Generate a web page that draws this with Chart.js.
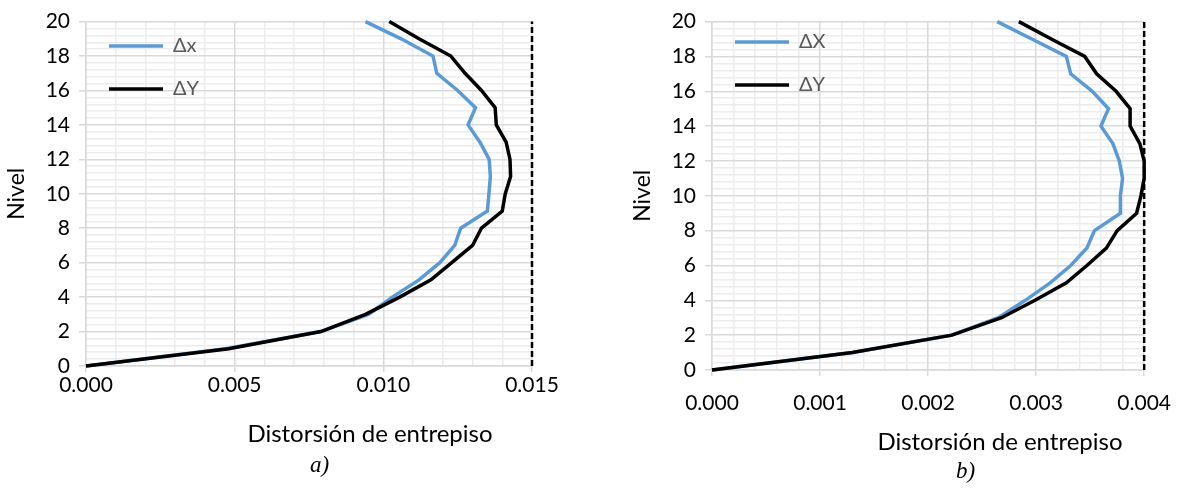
<!DOCTYPE html>
<html>
<head>
<meta charset="utf-8">
<script src="https://cdn.jsdelivr.net/npm/chart.js@4/dist/chart.umd.min.js"></script>
<style>
body { margin: 0; background: #fff; width: 1194px; height: 489px; position: relative; overflow: hidden; }
canvas { position: absolute; top: 0; }
#chartA { left: 0; }
#chartB { left: 626px; }
.cap { position: absolute; font-family: "Liberation Serif", serif; font-style: italic; font-size: 23px; }
.tit { position: absolute; font-family: Lato, sans-serif; font-size: 24px; color: #000;
       transform: translate(-50%, -50%); white-space: nowrap; }
</style>
</head>
<body>
<canvas id="chartA" width="560" height="450"></canvas>
<canvas id="chartB" width="560" height="460"></canvas>
<div class="tit" style="left:370px; top:432px;">Distorsión de entrepiso</div>
<div class="tit" style="left:1000px; top:440px;">Distorsión de entrepiso</div>
<div class="cap" style="left:310px; top:452px;">a)</div>
<div class="cap" style="left:956px; top:458px;">b)</div>
<script>
// niveles del edificio (eje vertical)
const niveles = [0, 1, 2, 3, 4, 5, 6, 7, 8, 9, 10, 11, 12, 13, 14, 15, 16, 17, 18, 19, 20];

// a) distorsiones
const derivaXa = [0, 0.0047, 0.0079, 0.0095, 0.0103, 0.0112, 0.0119, 0.0124, 0.0126, 0.0135, 0.01355,
                  0.0136, 0.01356, 0.01325, 0.01285, 0.0131, 0.0125, 0.0118, 0.01167, 0.0106, 0.0094];
const derivaYa = [0, 0.0048, 0.0079, 0.0094, 0.01055, 0.0116, 0.0123, 0.0130, 0.0133, 0.0140, 0.0141,
                  0.01428, 0.01426, 0.01413, 0.0138, 0.01376, 0.0133, 0.01275, 0.01227, 0.0112, 0.0102];

// b)
const derivaXb = [0, 0.0013, 0.00222, 0.00265, 0.0029, 0.00313, 0.00332, 0.00347, 0.00354, 0.00378, 0.00378,
                  0.0038, 0.00377, 0.00371, 0.0036, 0.00367, 0.00352, 0.00332, 0.00328, 0.00296, 0.00264];
const derivaYb = [0, 0.0013, 0.00222, 0.00268, 0.00299, 0.00328, 0.00347, 0.00365, 0.00375, 0.00393, 0.00397,
                  0.0040, 0.0040, 0.00396, 0.00387, 0.00387, 0.00374, 0.00356, 0.00345, 0.00314, 0.00284];

// limites (linea punteada) y escalas
const limiteA = [0.015, 0.015];
const limiteB = [0.004, 0.004];
const limiteNiv = [0, 20];
const ticksA = { max: 0.015, paso: 0.005, menor: 0.001 };
const ticksB = { max: 0.004, paso: 0.001, menor: 0.0002 };
const nomA = ['\u0394x', '\u0394Y'];
const nomB = ['\u0394X', '\u0394Y'];

const fuente = 'Lato';
const gridMayor = '#d9d9d9';
const gridMenor = '#ececec';

function puntos(xs, ys) {
    return xs.map((v, i) => ({ x: v, y: ys[i] }));
}

function crearGrafico(id, dx, dy, lim, nombres, t, altoX, padTicks, legTop) {
    const ctx = document.getElementById(id).getContext('2d');
    return new Chart(ctx, {
        type: 'scatter',
        data: {
            datasets: [
                { label: nombres[0], data: puntos(dx, niveles), showLine: true, borderColor: '#5b9bd5',
                  backgroundColor: '#5b9bd5', borderWidth: 3.5, pointRadius: 0, order: 1, clip: false },
                { label: nombres[1], data: puntos(dy, niveles), showLine: true, borderColor: '#000',
                  backgroundColor: '#000', borderWidth: 3.5, pointRadius: 0, order: 0, clip: false },
                { label: 'limite', data: puntos(lim, limiteNiv), showLine: true, borderColor: '#000',
                  borderWidth: 2.5, borderDash: [6, 3], pointRadius: 0, order: 2, clip: false }
            ]
        },
        options: {
            responsive: false,
            animation: false,
            layout: { padding: { top: 16, right: 28, left: 0, bottom: 0 } },
            plugins: {
                tooltip: { enabled: false },
                legend: {
                    position: 'chartArea',
                    align: 'start',
                    // titulo vacio solo para bajar la leyenda
                    title: { display: true, text: ' ', font: { size: 10 }, padding: { top: legTop, bottom: 0 } },
                    labels: {
                        usePointStyle: true,
                        pointStyle: 'line',
                        pointStyleWidth: 54,
                        padding: 23,
                        color: '#595959',
                        font: { family: fuente, size: 20 },
                        filter: item => item.text !== 'limite',
                        sort: (a, b) => a.datasetIndex - b.datasetIndex
                    }
                }
            },
            scales: {
                xm: {
                    type: 'linear', position: 'bottom', min: 0, max: t.max,
                    ticks: { display: false, stepSize: t.menor },
                    grid: { drawTicks: false, lineWidth: 1.5,
                            color: c => (c.index % 5 === 0 ? 'rgba(0,0,0,0)' : gridMenor) },
                    border: { display: false },
                    afterFit: s => { s.height = 0; }
                },
                ym: {
                    type: 'linear', position: 'left', min: 0, max: 20,
                    ticks: { display: false, stepSize: 0.4 },
                    grid: { drawTicks: false, lineWidth: 1.5,
                            color: c => (c.index % 5 === 0 ? 'rgba(0,0,0,0)' : gridMenor) },
                    border: { display: false },
                    afterFit: s => { s.width = 0; }
                },
                x: {
                    type: 'linear', position: 'bottom', min: 0, max: t.max,
                    ticks: { stepSize: t.paso, callback: v => v.toFixed(3), color: '#000',
                             font: { family: fuente, size: 21 }, padding: padTicks, maxRotation: 0, autoSkip: false },
                    grid: { color: gridMayor, lineWidth: 1.5, tickLength: 6 },
                    border: { color: gridMayor, width: 1.5 },
                    afterFit: s => { s.height = altoX; }
                },
                y: {
                    type: 'linear', position: 'left', min: 0, max: 20,
                    ticks: { stepSize: 2, color: '#000', font: { family: fuente, size: 21 }, padding: 9 },
                    grid: { color: gridMayor, lineWidth: 1.5, tickLength: 7 },
                    border: { color: gridMayor, width: 1.5 },
                    title: { display: true, text: 'Nivel', color: '#000',
                             font: { family: fuente, size: 23 }, padding: { top: 3, bottom: 0 } },
                    afterFit: s => { s.width = 86; }
                }
            }
        }
    });
}

crearGrafico('chartA', derivaXa, derivaYa, limiteA, nomA, ticksA, 84, 1, 1);
crearGrafico('chartB', derivaXb, derivaYb, limiteB, nomB, ticksB, 90, 15, -3);
</script>
</body>
</html>
